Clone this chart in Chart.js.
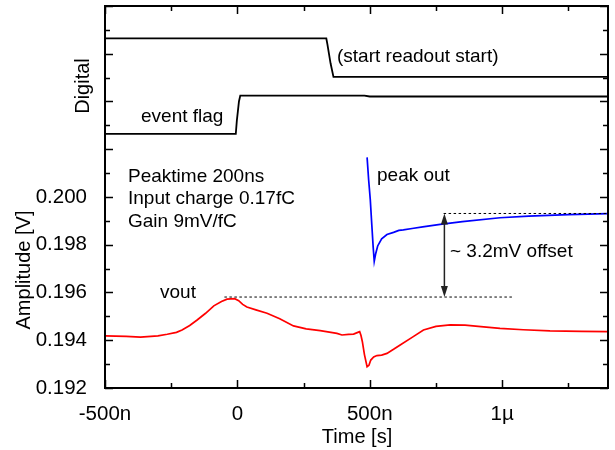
<!DOCTYPE html>
<html>
<head>
<meta charset="utf-8">
<script src="https://cdn.jsdelivr.net/npm/chart.js@4.4.1/dist/chart.umd.min.js"></script>
<style>
  html, body { margin: 0; padding: 0; background: #fff; }
  #wrap { width: 615px; height: 450px; }
</style>
</head>
<body>
<div id="wrap"><canvas id="chart" width="615" height="450"></canvas></div>
<script>
// time in ns, amplitude in V (digital traces share the same axis, shifted up)
var voutT = [-500, -420, -366, -300, -265, -230, -209, -180, -152, -120, -89, -60, -39, -10, 5, 20, 36, 70, 112, 160, 212, 260, 313, 376, 395, 420, 439, 455, 462, 467, 472, 480, 490, 497, 504, 515, 527, 545, 565, 590, 615, 660, 703, 750, 804, 860, 920, 992, 1080, 1181, 1300, 1400];
var voutV = [0.19418, 0.19416, 0.19413, 0.19418, 0.19425, 0.19433, 0.19443, 0.19462, 0.19485, 0.19513, 0.19544, 0.19562, 0.19572, 0.19574, 0.19566, 0.19550, 0.19539, 0.19527, 0.19513, 0.19490, 0.19460, 0.19448, 0.19440, 0.19429, 0.19422, 0.19425, 0.19426, 0.19433, 0.19436, 0.19420, 0.19395, 0.19340, 0.19289, 0.19295, 0.19317, 0.19330, 0.19336, 0.19338, 0.19345, 0.19362, 0.19380, 0.19412, 0.19443, 0.19458, 0.19464, 0.19463, 0.19457, 0.19450, 0.19444, 0.19439, 0.19437, 0.19436];

var peakT = [490, 496, 502, 508, 513, 517, 522, 530, 545, 565, 590, 610, 627, 660, 700, 766, 850, 992, 1100, 1250, 1400];
var peakV = [0.20166, 0.2007, 0.1999, 0.1988, 0.1979, 0.19731, 0.19760, 0.19795, 0.19825, 0.19843, 0.19852, 0.19860, 0.19862, 0.19868, 0.19875, 0.19885, 0.19897, 0.19913, 0.19920, 0.19926, 0.19930];

var readoutT = [-500, 336, 340, 352, 363, 1400];
var readoutV = [0.20664, 0.20664, 0.20640, 0.20560, 0.20503, 0.20503];

var flagT = [-500, -6, -2, 2, 6, 11, 480, 500, 1400];
var flagV = [0.20264, 0.20264, 0.20320, 0.20360, 0.20400, 0.20425, 0.20425, 0.20421, 0.20421];

var offsetTop = 0.19931, offsetBottom = 0.19581;
var offsetTopT = [779, 1400];
var offsetBottomT = [-49, 1037];
var arrowT = 782;

var xTicks = [-500, 0, 500, 1000];
var xTickLabels = ['-500n', '0', '500n', '1\u00b5'];
var yTickLabels = ['0.192', '0.194', '0.196', '0.198', '0.200'];

function pts(t, v) {
    var out = [];
    for (var i = 0; i < t.length; i++) {
        out.push({x: t[i], y: Array.isArray(v) ? v[i] : v});
    }
    return out;
}

// fixed box sizes, no extra label padding
function fixBox(s, w, h) {
    if (w) s.width = w;
    if (h) s.height = h;
    s.paddingTop = 0; s.paddingBottom = 0; s.paddingLeft = 0; s.paddingRight = 0;
}

Chart.defaults.font.family = '"Liberation Sans", Arial, sans-serif';
Chart.defaults.color = '#000';

var decor = {
    id: 'decor',
    afterDatasetsDraw: function(chart) {
        var ctx = chart.ctx, a = chart.chartArea;
        var xs = chart.scales.x, ys = chart.scales.y;
        ctx.save();
        ctx.strokeStyle = '#000';
        ctx.lineWidth = 1.5;
        // x ticks, inward, top and bottom
        for (var t = -500; t <= 1400; t += 250) {
            var px = Math.round(xs.getPixelForValue(t)) + 0.5;
            var len = (t % 500 === 0) ? 8 : 5;
            ctx.beginPath();
            ctx.moveTo(px, a.bottom); ctx.lineTo(px, a.bottom - len);
            ctx.moveTo(px, a.top); ctx.lineTo(px, a.top + len);
            ctx.stroke();
        }
        // y ticks, inward, left and right
        for (var k = 0; k <= 16; k++) {
            var v = 0.192 + k * 0.001;
            var py = Math.round(ys.getPixelForValue(v)) + 0.5;
            var l2 = (k % 2 === 0) ? 8 : 5;
            ctx.beginPath();
            ctx.moveTo(a.left, py); ctx.lineTo(a.left + l2, py);
            ctx.moveTo(a.right, py); ctx.lineTo(a.right - l2, py);
            ctx.stroke();
        }
        // frame
        ctx.lineWidth = 2;
        ctx.strokeRect(a.left, a.top, a.right - a.left, a.bottom - a.top);

        // offset arrow
        var ax = xs.getPixelForValue(arrowT);
        var y1 = ys.getPixelForValue(offsetTop), y2 = ys.getPixelForValue(offsetBottom);
        ctx.strokeStyle = '#222';
        ctx.fillStyle = '#222';
        ctx.lineWidth = 1.5;
        ctx.beginPath();
        ctx.moveTo(ax, y1 + 8); ctx.lineTo(ax, y2 - 8);
        ctx.stroke();
        ctx.beginPath();
        ctx.moveTo(ax, y1); ctx.lineTo(ax - 3.5, y1 + 11); ctx.lineTo(ax + 3.5, y1 + 11); ctx.closePath();
        ctx.fill();
        ctx.beginPath();
        ctx.moveTo(ax, y2); ctx.lineTo(ax - 3.5, y2 - 11); ctx.lineTo(ax + 3.5, y2 - 11); ctx.closePath();
        ctx.fill();
        ctx.restore();
    },
    afterDraw: function(chart) {
        var ctx = chart.ctx;
        ctx.save();
        ctx.fillStyle = '#000';
        ctx.textBaseline = 'middle';
        ctx.font = '19px "Liberation Sans", Arial, sans-serif';
        ctx.textAlign = 'left';
        ctx.fillText('(start readout start)', 337, 57);
        ctx.fillText('event flag', 141, 117);
        ctx.fillText('Peaktime 200ns', 128, 177);
        ctx.fillText('Input charge 0.17fC', 128, 199);
        ctx.fillText('Gain 9mV/fC', 128, 222);
        ctx.fillText('peak out', 377, 176);
        ctx.fillText('~ 3.2mV offset', 450, 252);
        ctx.fillText('vout', 160, 293);

        ctx.font = '20px "Liberation Sans", Arial, sans-serif';
        ctx.textAlign = 'center';
        ctx.fillText('Time [s]', 357, 437);
        ctx.save();
        ctx.translate(83, 86);
        ctx.rotate(-Math.PI / 2);
        ctx.fillText('Digital', 0, 0);
        ctx.restore();
        ctx.save();
        ctx.translate(24, 270);
        ctx.rotate(-Math.PI / 2);
        ctx.fillText('Amplitude [V]', 0, 0);
        ctx.restore();
        ctx.restore();
    }
};

var dashed = {borderColor: '#000', borderWidth: 1, borderDash: [2.5, 2.5], pointRadius: 0};

var chart = new Chart(document.getElementById('chart').getContext('2d'), {
    type: 'line',
    data: {
        datasets: [
            {label: 'start readout', data: pts(readoutT, readoutV), borderColor: '#000', borderWidth: 1.8, pointRadius: 0},
            {label: 'event flag', data: pts(flagT, flagV), borderColor: '#000', borderWidth: 1.8, pointRadius: 0},
            Object.assign({label: 'offset top', data: pts(offsetTopT, offsetTop)}, dashed),
            Object.assign({label: 'offset bottom', data: pts(offsetBottomT, offsetBottom)}, dashed),
            {label: 'peak out', data: pts(peakT, peakV), borderColor: '#0000ff', borderWidth: 1.7, pointRadius: 0},
            {label: 'vout', data: pts(voutT, voutV), borderColor: '#ff0000', borderWidth: 1.7, pointRadius: 0}
        ]
    },
    options: {
        responsive: false,
        animation: false,
        devicePixelRatio: 1,
        layout: {padding: {left: 0, top: 6, right: 7, bottom: 0}},
        plugins: {legend: {display: false}, tooltip: {enabled: false}},
        scales: {
            x: {
                type: 'linear',
                min: -500,
                max: 1400,
                grid: {display: false},
                border: {display: false},
                afterFit: function(s) { fixBox(s, 0, 62); },
                afterBuildTicks: function(s) { s.ticks = xTicks.map(function(v) { return {value: v}; }); },
                ticks: {
                    autoSkip: false,
                    maxRotation: 0,
                    padding: 6,
                    font: {size: 20.5},
                    callback: function(v) {
                        var i = xTicks.indexOf(v);
                        return i >= 0 ? xTickLabels[i] : '';
                    }
                }
            },
            y: {
                min: 0.192,
                max: 0.208,
                grid: {display: false},
                border: {display: false},
                afterFit: function(s) { fixBox(s, 105, 0); },
                afterBuildTicks: function(s) {
                    s.ticks = yTickLabels.map(function(l) { return {value: parseFloat(l)}; });
                },
                ticks: {
                    autoSkip: false,
                    padding: 10,
                    font: {size: 20.5},
                    callback: function(v) {
                        return v.toFixed(3);
                    }
                }
            }
        }
    },
    plugins: [decor]
});
</script>
</body>
</html>
